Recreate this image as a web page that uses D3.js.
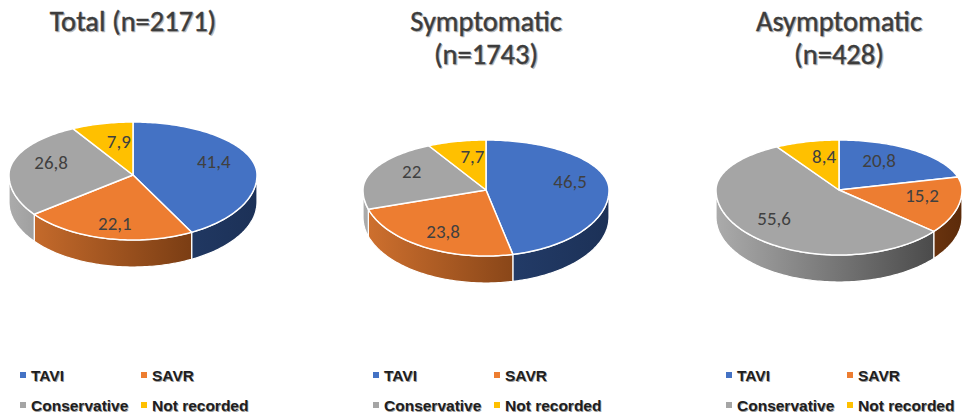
<!DOCTYPE html>
<html>
<head>
<meta charset="utf-8">
<script src="https://cdn.jsdelivr.net/npm/d3@7"></script>
<style>
  body { margin: 0; background: #fff; }
  svg { display: block; }
</style>
</head>
<body>
<div id="chart"></div>
<script>
const categories = ["TAVI", "SAVR", "Conservative", "Not recorded"];
const totalValues = [41.4, 22.1, 26.8, 7.9];
const symptomaticValues = [46.5, 23.8, 22, 7.7];
const asymptomaticValues = [20.8, 15.2, 55.6, 8.4];
const titles = [["Total (n=2171)"], ["Symptomatic", "(n=1743)"], ["Asymptomatic", "(n=428)"]];

const topColors = ["#4472C4", "#ED7D31", "#A5A5A5", "#FFC000"];
// side gradient: [left, right]
const sideColors = [["#2c4a80", "#1c3157"], ["#d0712f", "#5c2b0a"], ["#ababab", "#3e3e3e"], ["#d9a400", "#7f6000"]];

const W = 963, H = 419;
const svg = d3.select("#chart").append("svg").attr("width", W).attr("height", H);
const defs = svg.append("defs");

const pies = [
    { values: totalValues, cx: 133, apex: 175, rx: 124, ryB: 53, ryF: 65, depth: 27 },
    { values: symptomaticValues, cx: 486, apex: 190, rx: 123, ryB: 50, ryF: 66, depth: 27 },
    { values: asymptomaticValues, cx: 839, apex: 190, rx: 123, ryB: 50, ryF: 65, depth: 27 }
];

const pie = d3.pie().sort(null).value(d => d).startAngle(0).endAngle(2 * Math.PI);
const line = d3.line();

function pt(p, a, dy) {
    let c = Math.cos(a);
    return [p.cx + p.rx * Math.sin(a), p.apex - (c > 0 ? p.ryB : p.ryF) * c + (dy || 0)];
}

function arcPts(p, a0, a1, dy) {
    let n = Math.max(2, Math.ceil((a1 - a0) / 0.02));
    let pts = [];
    for (let i = 0; i <= n; i++) pts.push(pt(p, a0 + (a1 - a0) * i / n, dy));
    return pts;
}

pies.forEach((p, pi) => {
    let g = svg.append("g");
    let arcs = pie(p.values);

    sideColors.forEach((c, i) => {
        let grad = defs.append("linearGradient")
            .attr("id", "side" + pi + "_" + i)
            .attr("gradientUnits", "userSpaceOnUse")
            .attr("x1", p.cx - p.rx).attr("x2", p.cx + p.rx)
            .attr("y1", 0).attr("y2", 0);
        grad.append("stop").attr("offset", 0).attr("stop-color", c[0]);
        grad.append("stop").attr("offset", 1).attr("stop-color", c[1]);
    });

    // sides (front half only)
    arcs.forEach((d, i) => {
        let s = Math.max(d.startAngle, Math.PI / 2);
        let e = Math.min(d.endAngle, 3 * Math.PI / 2);
        if (e <= s) return;
        let pts = arcPts(p, s, e, 0).concat(arcPts(p, s, e, p.depth).reverse());
        g.append("path")
            .attr("d", line(pts) + "Z")
            .attr("fill", `url(#side${pi}_${i})`)
            .attr("stroke", "#fff")
            .attr("stroke-width", 1.2)
            .attr("stroke-linejoin", "round");
    });

    // top faces
    arcs.forEach((d, i) => {
        let pts = [[p.cx, p.apex]].concat(arcPts(p, d.startAngle, d.endAngle, 0));
        g.append("path")
            .attr("d", line(pts) + "Z")
            .attr("fill", topColors[i])
            .attr("stroke", "#fff")
            .attr("stroke-width", 1.5)
            .attr("stroke-linejoin", "round");
    });

    // data labels
    arcs.forEach((d, i) => {
        let m = (d.startAngle + d.endAngle) / 2;
        let s = Math.sin(m), c = Math.cos(m);
        let kx = 85 - 30 * Math.pow(Math.max(0, c), 2);
        g.append("text")
            .attr("x", p.cx + kx * s)
            .attr("y", p.apex + 8 - 42 * c - 12 * s * s)
            .attr("text-anchor", "middle")
            .attr("dominant-baseline", "central")
            .attr("font-family", "Carlito, Calibri, Lato, sans-serif")
            .attr("font-size", 19)
            .attr("fill", "#404040")
            .text(String(d.data).replace(".", ","));
    });

    // title (one text per title, lines as tspans)
    [["#b8b8b8", 1.2], ["#3c3c3c", 0]].forEach(([col, off]) => {
        let t = g.append("text")
            .attr("text-anchor", "middle")
            .attr("font-family", "Carlito, Calibri, Lato, sans-serif")
            .attr("font-size", 28.5)
            .attr("fill", col)
            .attr("stroke", col)
            .attr("stroke-width", 0.4);
        titles[pi].forEach((s, li) => {
            t.append("tspan")
                .attr("x", p.cx + off)
                .attr("y", 31 + li * 33 + off)
                .text(s);
        });
    });

    // legend
    categories.forEach((name, i) => {
        let lx = p.cx - 113 + (i % 2) * 121;
        let ly = 381 + Math.floor(i / 2) * 30;
        g.append("rect")
            .attr("x", lx).attr("y", ly - 9)
            .attr("width", 6).attr("height", 6)
            .attr("fill", topColors[i]);
        [["#9a9a9a", 0.8], ["#1e1e1e", 0]].forEach(([col, off]) => {
            g.append("text")
                .attr("x", lx + 11 + off)
                .attr("y", ly + off)
                .attr("font-family", "Liberation Sans, Arial, sans-serif")
                .attr("font-weight", "bold")
                .attr("font-size", 15.5)
                .attr("fill", col)
                .text(name);
        });
    });
});
</script>
</body>
</html>
